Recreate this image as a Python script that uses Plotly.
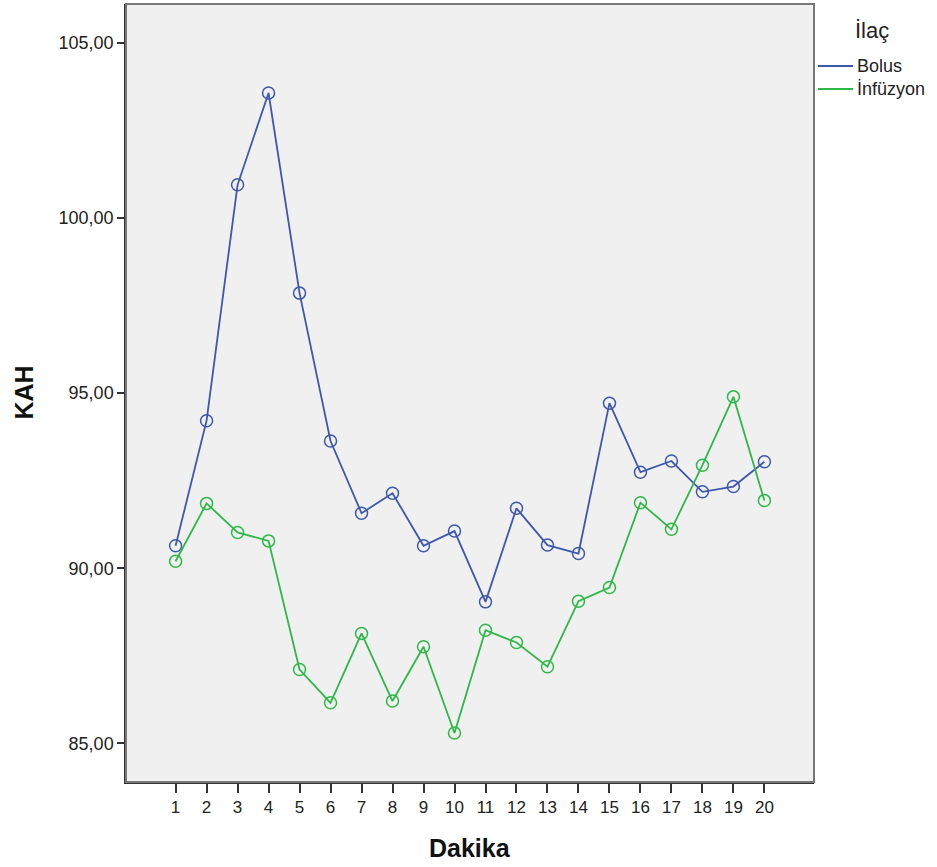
import plotly.graph_objects as go

dakika = list(range(1, 21))
bolus = [90.64, 94.21, 100.94, 103.56, 97.85, 93.63, 91.57, 92.14, 90.64, 91.06,
         89.04, 91.71, 90.66, 90.42, 94.71, 92.74, 93.06, 92.18, 92.33, 93.04]
infuzyon = [90.20, 91.85, 91.02, 90.78, 87.11, 86.16, 88.14, 86.21, 87.76, 85.30,
            88.23, 87.88, 87.19, 89.06, 89.45, 91.87, 91.11, 92.94, 94.89, 91.93]
series_names = ["Bolus", "İnfüzyon"]
colors = ["#3E58AC", "#2EB848"]
y_ticks = [85, 90, 95, 100, 105]

FONT = "Liberation Sans, Arial, sans-serif"

W, H = 937, 867
ML, MR, MT, MB = 126, 123, 4, 85
plot_w = W - ML - MR
plot_h = H - MT - MB

def px_x(px):
    return (px - ML) / plot_w

def px_y(py):
    return (H - MB - py) / plot_h

fig = go.Figure()
for name, vals, col in zip(series_names, [bolus, infuzyon], colors):
    fig.add_trace(go.Scatter(
        x=dakika, y=vals, mode="lines+markers", name=name, showlegend=False,
        line=dict(color=col, width=1.8),
        marker=dict(symbol="circle-open", size=12, color=col, line=dict(width=1.5, color=col)),
    ))

shapes = [dict(type="rect", xref="paper", yref="paper", x0=0, y0=0, x1=1, y1=1,
               line=dict(color="#777", width=2), layer="above")]
annotations = [
    dict(text="<b>KAH</b>", x=px_x(23.5), y=px_y(393), xref="paper", yref="paper",
         xanchor="center", yanchor="middle",
         textangle=-90, showarrow=False, font=dict(size=25, color="#111")),
    dict(text="<b>Dakika</b>", x=px_x(470), y=px_y(848), xref="paper", yref="paper",
         xanchor="center", yanchor="middle",
         showarrow=False, font=dict(size=25, color="#111")),
    dict(text="İlaç", x=px_x(853), y=px_y(31), xref="paper", yref="paper",
         xanchor="left", yanchor="middle", showarrow=False,
         font=dict(size=22, color="#222")),
]
# legend entries (series name + line sample)
for i, (name, col) in enumerate(zip(series_names, colors)):
    ly = 66 + 23 * i
    shapes.append(dict(type="line", xref="paper", yref="paper",
                       x0=px_x(818), x1=px_x(853), y0=px_y(ly), y1=px_y(ly),
                       line=dict(color=col, width=2)))
    annotations.append(dict(text=name, x=px_x(855), y=px_y(ly), xref="paper", yref="paper",
                            xanchor="left", yanchor="middle", showarrow=False,
                            font=dict(size=18, color="#222")))

fig.update_layout(
    width=W, height=H,
    margin=dict(l=ML, r=MR, t=MT, b=MB),
    paper_bgcolor="white", plot_bgcolor="#F0F0F0",
    separators=",.",
    font=dict(family=FONT, color="#222"),
    showlegend=False,
    xaxis=dict(range=[-0.6, 21.6], tickmode="array", tickvals=dakika,
               ticktext=[str(d) for d in dakika], showgrid=False, zeroline=False,
               showline=True, linecolor="#333", linewidth=1.5,
               ticks="outside", ticklen=9, tickcolor="#333", tickwidth=1.5,
               tickfont=dict(size=17, color="#222")),
    yaxis=dict(range=[83.9, 106.1], tickmode="array", tickvals=y_ticks,
               tickformat=".2f", showgrid=False, zeroline=False,
               showline=True, linecolor="#333", linewidth=1.5,
               ticks="outside", ticklen=7, tickcolor="#333", tickwidth=1.5,
               tickfont=dict(size=18, color="#222")),
    shapes=shapes,
    annotations=annotations,
)

fig.write_html("out.html", config={"displayModeBar": False},
               post_script="document.body.style.margin='0';")
